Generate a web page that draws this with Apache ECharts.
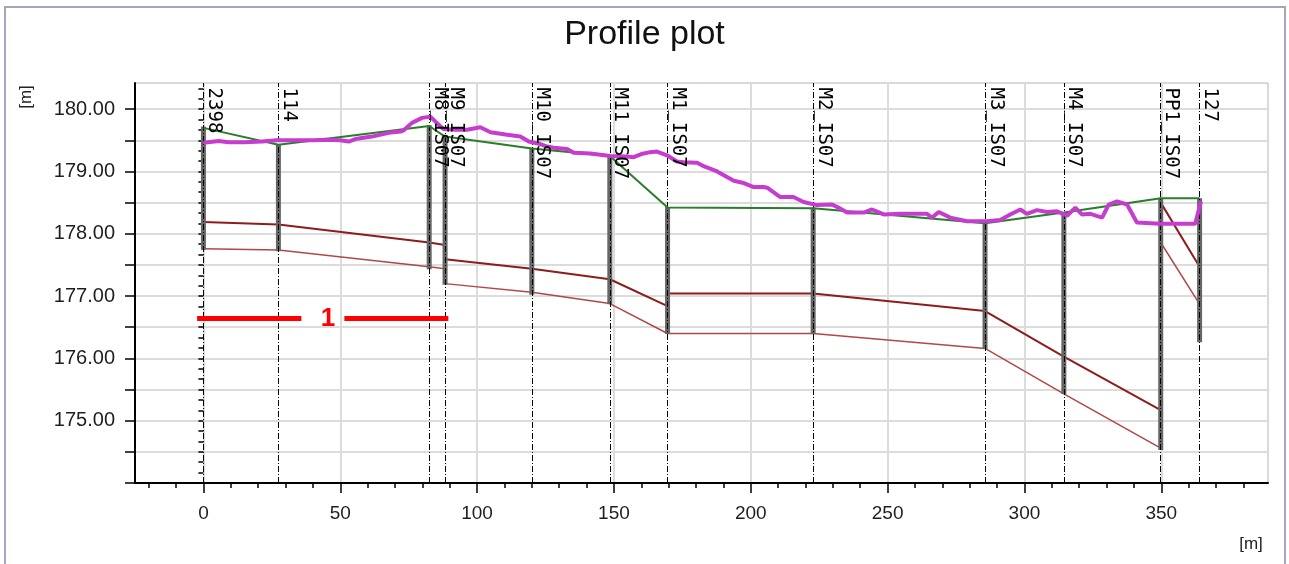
<!DOCTYPE html>
<html>
<head>
<meta charset="utf-8">
<title>Profile plot</title>
<script src="https://cdn.jsdelivr.net/npm/echarts@6/dist/echarts.min.js"></script>
<style>
html, body { margin: 0; padding: 0; background: #fff; }
#chart { width: 1289px; height: 564px; }
</style>
</head>
<body>
<div id="chart"></div>
<script>
// boreholes along the profile
const boreNames = ['2398', '114', 'M8_IS07', 'M9_IS07', 'M10_IS07', 'M11_IS07', 'M1_IS07', 'M2_IS07', 'M3_IS07', 'M4_IS07', 'PP1_IS07', '127']
const boreX = [0, 27.4, 82.5, 88.3, 120, 148.5, 169.6, 222.8, 285.6, 314.4, 349.8, 364]
const boreTop = [179.72, 179.44, 179.74, 179.58, 179.37, 179.26, 178.43, 178.42, 178.18, 178.34, 178.57, 178.57]
const boreBottom = [177.74, 177.72, 177.43, 177.18, 177.02, 176.87, 176.39, 176.39, 176.15, 175.43, 174.53, 176.26]

// ground line (green)
const groundX = [0, 27.4, 82.5, 88.3, 120, 148.5, 169.6, 222.8, 285.6, 314.4, 349.8, 364]
const groundY = [179.70, 179.43, 179.73, 179.56, 179.37, 179.25, 178.42, 178.41, 178.17, 178.34, 178.57, 178.57]

// layer boundaries (brown)
const layer1X = [0, 27.4, 82.5, 88.3, 88.3, 120, 148.5, 169.6, 169.6, 222.8, 285.6, 314.4, 349.8, 349.8, 364]
const layer1Y = [178.19, 178.15, 177.86, 177.82, 177.59, 177.44, 177.27, 176.84, 177.04, 177.04, 176.76, 176.03, 175.17, 178.50, 177.47]
const layer2X = [0, 27.4, 82.5, 88.3, 88.3, 120, 148.5, 169.6, 222.8, 285.6, 314.4, 349.8, 349.8, 364]
const layer2Y = [177.76, 177.74, 177.47, 177.44, 177.20, 177.06, 176.88, 176.40, 176.40, 176.16, 175.43, 174.56, 177.86, 176.87]

// surveyed terrain (magenta)
const terrainX = [0, 5.6, 9.2, 15, 21.4, 26.9, 33.6, 40, 45.8, 50, 53.1, 55.5, 61.6, 67.7, 72, 73.2, 76.2, 79.9, 82.9, 84.8,
  87.7, 92.3, 96.3, 101.2, 104.9, 111, 115.8, 118.9, 123.1, 125.6, 128, 132.9, 135.3, 141.4, 148.7, 154.8, 157.2, 160, 163.3, 165.7,
  169.4, 173, 175.5, 180.4, 183, 187.7, 193.8, 197, 201.1, 204.7, 206, 210.8, 215.6, 219.3, 224.2, 229.7, 232, 235.2, 241.3, 244.3,
  248.6, 254.7, 264.4, 266.2, 268.7, 272.9, 279, 286.3, 291.2, 294.8, 298.5, 300.9, 304.6, 308.3, 311.9, 315.6, 318.6, 321, 324.1, 328.4,
  330.8, 333.8, 337.5, 341.1, 349.7, 362.4, 364.5]
const terrainY = [179.46, 179.49, 179.47, 179.47, 179.48, 179.50, 179.50, 179.50, 179.51, 179.50, 179.48, 179.52, 179.56, 179.62, 179.64, 179.66, 179.78, 179.86, 179.88, 179.80,
  179.68, 179.67, 179.67, 179.71, 179.63, 179.59, 179.56, 179.48, 179.44, 179.40, 179.38, 179.36, 179.30, 179.29, 179.25, 179.24, 179.23, 179.28, 179.31, 179.32,
  179.26, 179.16, 179.15, 179.14, 179.08, 179.00, 178.85, 178.82, 178.75, 178.75, 178.74, 178.59, 178.59, 178.51, 178.46, 178.47, 178.42, 178.34, 178.34, 178.39,
  178.31, 178.32, 178.32, 178.26, 178.35, 178.26, 178.20, 178.20, 178.22, 178.31, 178.39, 178.32, 178.38, 178.35, 178.36, 178.29, 178.42, 178.31, 178.32, 178.26,
  178.47, 178.52, 178.47, 178.18, 178.16, 178.16, 178.52]

// red annotation
const annoY = 176.64
const annoSeg1 = [-2.3, 35.8]
const annoSeg2 = [51.5, 89.5]
const annoLabelX = 45.5
const annoText = '1'

// axes
const xMin = -25, xMax = 389
const yMin = 174, yMax = 180.42
const xLabels = [0, 50, 100, 150, 200, 250, 300, 350]
const yLabels = [175, 176, 177, 178, 179, 180]
const yMajorTicks = [174, 174.5, 175, 175.5, 176, 176.5, 177, 177.5, 178, 178.5, 179, 179.5, 180]
const xMinorTicks = []
for (let v = -20; v <= 380; v += 10) xMinorTicks.push(v)
const yMinorTicks = []
for (let k = 1; k <= 38; k++) yMinorTicks.push(174 + k / 6)

const zip = (xs, ys) => xs.map((x, i) => [x, ys[i]])

let myChart = echarts.init(document.getElementById('chart'))
let option = {
  animation: false,
  backgroundColor: '#fff',
  title: {
    text: 'Profile plot',
    left: 'center',
    top: 13,
    textStyle: { fontFamily: 'Liberation Sans', fontSize: 34, fontWeight: 'normal', color: '#111' }
  },
  grid: {
    left: 135, right: 21, top: 83, bottom: 81,
    show: true, borderColor: '#b4b4b4', borderWidth: 1
  },
  graphic: [
    { type: 'rect', shape: { x: 5, y: 7, width: 1280, height: 570 }, style: { fill: 'none', stroke: '#a3a7b8', lineWidth: 2 }, silent: true },
    { type: 'text', x: 26, y: 97, rotation: Math.PI / 2, style: { text: '[m]', align: 'center', verticalAlign: 'middle', font: '17px "Liberation Sans"', fill: '#222' } },
    { type: 'text', x: 1251, y: 544, style: { text: '[m]', align: 'center', verticalAlign: 'middle', font: '17px "Liberation Sans"', fill: '#222' } }
  ],
  xAxis: [{
    type: 'value', min: xMin, max: xMax, position: 'bottom',
    axisLine: { show: true, onZero: false, lineStyle: { color: '#000', width: 2 } },
    axisTick: { show: true, customValues: xLabels, length: 10, lineStyle: { color: '#000', width: 1.5 } },
    axisLabel: { customValues: xLabels, margin: 21, fontFamily: 'Liberation Sans', fontSize: 19, color: '#1e1e1e' },
    splitLine: { show: false }
  }, {
    type: 'value', min: xMin, max: xMax, position: 'bottom',
    axisLine: { show: false },
    axisTick: { show: true, customValues: xMinorTicks, length: 5, lineStyle: { color: '#000', width: 1.5 } },
    axisLabel: { show: false },
    splitLine: { show: false }
  }],
  yAxis: [{
    type: 'value', min: yMin, max: yMax, position: 'left',
    axisLine: { show: true, onZero: false, lineStyle: { color: '#000', width: 2 } },
    axisTick: { show: true, customValues: yMajorTicks, length: 10, lineStyle: { color: '#000', width: 1.5 } },
    axisLabel: { customValues: yLabels, margin: 20, fontFamily: 'Liberation Sans', fontSize: 20, color: '#1e1e1e',
      formatter: v => v.toFixed(2) },
    splitLine: { show: false }
  }, {
    type: 'value', min: yMin, max: yMax, position: 'left',
    axisLine: { show: false },
    axisTick: { show: true, customValues: yMinorTicks, length: 5, lineStyle: { color: '#000', width: 1.5 } },
    axisLabel: { show: false },
    splitLine: { show: false }
  }],
  series: [
    {
      // grid lines
      type: 'line', data: [], z: 0, silent: true,
      markLine: {
        z: 0, symbol: ['none', 'none'], silent: true, label: { show: false },
        lineStyle: { color: '#dcdcdc', width: 2, type: 'solid' },
        data: xLabels.map(v => ({ xAxis: v })).concat(yMajorTicks.slice(1).map(v => ({ yAxis: v })))
      }
    },
    {
      name: 'layer2', type: 'line', z: 3, data: zip(layer2X, layer2Y), showSymbol: false,
      lineStyle: { color: '#b04848', width: 1.5 }
    },
    {
      name: 'layer1', type: 'line', z: 3, data: zip(layer1X, layer1Y), showSymbol: false,
      lineStyle: { color: '#8e1c1c', width: 2 }
    },
    {
      // borehole bars
      type: 'custom', z: 4, silent: true,
      renderItem: function (params, api) {
        let top = api.coord([api.value(0), api.value(1)])
        let bot = api.coord([api.value(0), api.value(2)])
        return {
          type: 'line',
          shape: { x1: top[0], y1: top[1], x2: bot[0], y2: bot[1] },
          style: { stroke: '#666666', lineWidth: 5 }
        }
      },
      data: boreX.map((x, i) => [x, boreTop[i], boreBottom[i]])
    },
    {
      // borehole dash-dot lines
      type: 'line', data: [], z: 5, silent: true,
      markLine: {
        z: 5, symbol: ['none', 'none'], silent: true, label: { show: false },
        lineStyle: { color: '#000', width: 1, type: [6, 2, 1, 2] },
        data: boreX.map(v => ({ xAxis: v }))
      }
    },
    {
      name: 'ground', type: 'line', z: 6, data: zip(groundX, groundY), showSymbol: false,
      lineStyle: { color: '#2a7d2a', width: 2 }
    },
    {
      name: 'terrain', type: 'line', z: 7, data: zip(terrainX, terrainY), showSymbol: false,
      lineStyle: { color: '#c63ccf', width: 4 }
    },
    {
      // borehole names
      type: 'scatter', z: 8, silent: true, symbolSize: 0,
      itemStyle: { opacity: 1 },
      data: boreX.map((x, i) => ({ value: [x, yMax - 0.01], name: boreNames[i] })),
      label: {
        show: true, formatter: p => p.name, position: [1, 4], rotate: -90,
        align: 'left', verticalAlign: 'bottom', opacity: 1,
        fontFamily: 'DejaVu Sans Mono', fontSize: 19, color: '#000'
      }
    },
    {
      type: 'line', z: 9, silent: true, showSymbol: false,
      data: annoSeg1.map(x => [x, annoY]),
      lineStyle: { color: '#ff0000', width: 5 }
    },
    {
      type: 'line', z: 9, silent: true, showSymbol: false,
      data: annoSeg2.map(x => [x, annoY]),
      lineStyle: { color: '#ff0000', width: 5 }
    },
    {
      type: 'scatter', z: 9, silent: true, symbolSize: 0,
      itemStyle: { opacity: 1 },
      data: [{ value: [annoLabelX, annoY], name: annoText }],
      label: { show: true, position: 'inside', formatter: p => p.name, color: '#ff0000', opacity: 1,
        textBorderWidth: 0, fontFamily: 'Liberation Sans', fontWeight: 'bold', fontSize: 26 }
    }
  ]
}
myChart.setOption(option)
window.addEventListener('resize', function () {
  myChart.resize()
})
</script>
</body>
</html>
